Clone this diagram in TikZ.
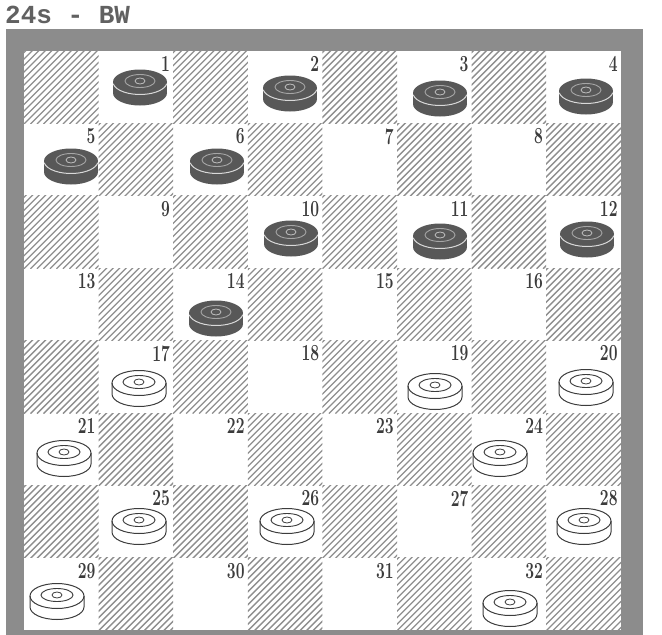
\documentclass[tikz,border=0pt]{standalone}
\usepackage{graphicx}
\usepackage{fontspec}
\newfontfamily\titlefont{Liberation Mono}
\usetikzlibrary{positioning}
\definecolor{framegrey}{HTML}{8C8C8C}
\definecolor{hatchgrey}{HTML}{8E8E8E}
\definecolor{inkgrey}{HTML}{3C3C3C}
\definecolor{mangrey}{HTML}{585858}

\begin{document}
\begin{tikzpicture}[
    x=1pt, y=-1pt,
    num/.style={anchor=north east, inner sep=0pt, text=inkgrey, font=\fontsize{23}{23}\selectfont\bfseries},
    hatch/.style={draw=hatchgrey, line width=1.3pt},
    bman/.pic={
      \fill[mangrey] (0,7) ellipse[x radius=27, y radius=12.5];
      \fill[mangrey] (-27,-4) rectangle (27,7);
      \fill[mangrey] (0,-4) ellipse[x radius=27, y radius=12.5];
      \draw[white!85!black, line width=1pt] (0,-4) ++(172:27 and 12.5) arc[start angle=172, end angle=8, x radius=27, y radius=12.5];
      \draw[white!65!black, line width=0.9pt] (0,-5) ellipse[x radius=15, y radius=6.5];
      \draw[white!75!black, line width=0.8pt] (0,-5) ellipse[x radius=5, y radius=3];
    },
    wman/.pic={
      \fill[white] (0,7) ellipse[x radius=27, y radius=12.5];
      \fill[white] (-27,-4) rectangle (27,7);
      \draw[inkgrey, line width=1pt] (0,-4) ellipse[x radius=27, y radius=12.5];
      \draw[inkgrey, line width=1pt] (-27,-4) -- (-27,7) arc[start angle=180, end angle=0, x radius=27, y radius=12.5] -- (27,-4);
      \draw[inkgrey, line width=0.9pt] (0,-5) ellipse[x radius=16, y radius=6.5];
      \draw[inkgrey, line width=0.8pt] (0,-5) ellipse[x radius=5, y radius=3];
    }
]
\useasboundingbox (0,0) rectangle (662,635);

% frame and board
\fill[framegrey] (6,29) rectangle (643,635);
\fill[white] (24,51) rectangle (621,630);

% hatched squares
\foreach \row in {0,...,7} {
  \foreach \col in {0,...,7} {
    \pgfmathtruncatemacro\dark{mod(\row+\col,2)}
    \ifnum\dark=0
      \pgfmathsetmacro\xa{24+74.6*\col}
      \pgfmathsetmacro\ya{51+72.4*\row}
      \begin{scope}
        \clip (\xa,\ya) rectangle ++(74.6,72.4);
        \foreach \k in {-78,-71.5,...,78}
          \draw[hatch] (\xa+\k,\ya+73) -- ++(76,-76);
      \end{scope}
    \fi
  }
}

% square numbers
\foreach \n in {1,...,32} {
  \pgfmathtruncatemacro\row{(\n-1)/4}
  \pgfmathtruncatemacro\k{mod(\n-1,4)}
  \pgfmathtruncatemacro\col{2*\k+1-mod(\row,2)}
  \node[num] (n\n) at ({24+74.6*(\col+1)-3},{51+72.4*\row+5}) {\scalebox{0.68}[1]{\n}};
}

% black men
\foreach \sq/\px/\py in {1/140/86, 2/290/92, 3/440/97, 4/586/95, 5/71/165, 6/217/165,
                         10/291/237, 11/440/240, 12/587/238, 14/216/317}
  \pic (b\sq) at (\px,\py) {bman};

% white men
\foreach \sq/\px/\py in {17/139/387, 19/435/390, 20/586/386, 21/64/457, 24/500/457,
                         25/139/525, 26/287/525, 28/584/525, 29/57/600, 32/510/607}
  \pic (w\sq) at (\px,\py) {wman};

% title
\node[anchor=base west, inner sep=0pt, text=black!62, font=\titlefont\bfseries\fontsize{26}{26}\selectfont] (title) at (5,23) {24s - BW};
\end{tikzpicture}
\end{document}
